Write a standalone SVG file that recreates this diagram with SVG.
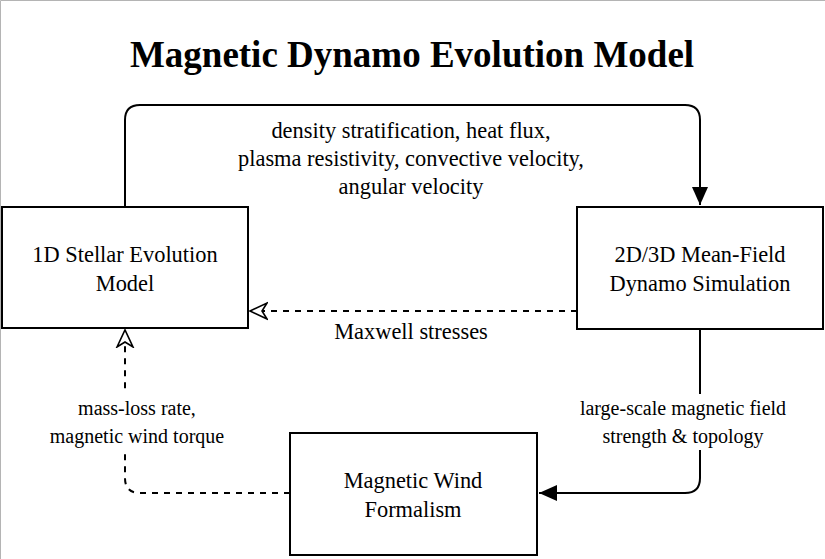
<svg xmlns="http://www.w3.org/2000/svg" width="825" height="559" viewBox="0 0 825 559">
<defs>
<style>
text{font-family:"Liberation Serif","Times New Roman",serif;fill:#000;}
.t{font-size:22.4px;text-anchor:middle;}
.s{font-size:20px;text-anchor:middle;}
.title{font-size:37px;font-weight:bold;text-anchor:middle;}
.box{fill:#fff;stroke:#000;stroke-width:2;}
.c{fill:none;stroke:#000;stroke-width:2;}
.d{stroke-dasharray:6 6;}
.bg{fill:#fff;}
</style>
<marker id="af" viewBox="0 0 20 20" refX="18" refY="10" markerWidth="20" markerHeight="20" markerUnits="userSpaceOnUse" orient="auto">
<path d="M0,2 L18,10 L0,18 Z" fill="#000"/>
</marker>
<marker id="ao" viewBox="0 0 20 20" refX="18" refY="10" markerWidth="20" markerHeight="20" markerUnits="userSpaceOnUse" orient="auto">
<path d="M1,2 L18,10 L1,18 L6,10 Z" fill="#fff" stroke="#000" stroke-width="1.6"/>
</marker>
</defs>
<rect width="825" height="559" fill="#fff"/>
<path d="M0.5,559 V0.5 H825" fill="none" stroke="#b4b4b4" stroke-width="1"/>
<text class="title" x="412" y="67">Magnetic Dynamo Evolution Model</text>
<g id="connectors">
<path class="c" d="M125,207 V120 Q125,105 140,105 H685 Q700,105 700,120 V205" marker-end="url(#af)"/>
<path class="c d" d="M577,311 H250" marker-end="url(#ao)"/>
<path class="c" d="M700,329 V478 Q700,493 685,493 H539" marker-end="url(#af)"/>
<path class="c d" d="M290,493 H140 Q125,493 125,478 V330" marker-end="url(#ao)"/>
<rect class="bg" x="577" y="394" width="212" height="56"/>
<rect class="bg" x="49" y="394" width="176" height="56"/>
<text class="t" x="411" y="138">density stratification, heat flux,</text>
<text class="t" x="411" y="166">plasma resistivity, convective velocity,</text>
<text class="t" x="411" y="194">angular velocity</text>
<text class="t" x="411" y="339">Maxwell stresses</text>
<text class="s" x="683" y="415">large-scale magnetic field</text>
<text class="s" x="683" y="443">strength &amp; topology</text>
<text class="s" x="137" y="415">mass-loss rate,</text>
<text class="s" x="137" y="443">magnetic wind torque</text>
</g>
<g id="stellar">
<rect class="box" x="2" y="207" width="246" height="121"/>
<text class="t" x="125" y="262">1D Stellar Evolution</text>
<text class="t" x="125" y="291">Model</text>
</g>
<g id="dynamo">
<rect class="box" x="577" y="207" width="246" height="122"/>
<text class="t" x="700" y="262">2D/3D Mean-Field</text>
<text class="t" x="700" y="291">Dynamo Simulation</text>
</g>
<g id="wind">
<rect class="box" x="290" y="433" width="247" height="122"/>
<text class="t" x="413" y="488">Magnetic Wind</text>
<text class="t" x="413" y="517">Formalism</text>
</g>
</svg>
